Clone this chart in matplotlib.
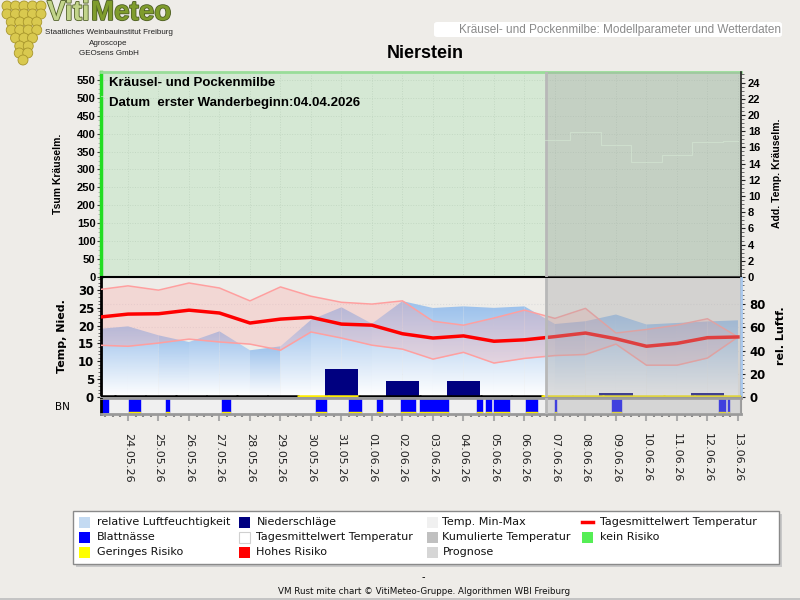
import numpy as np
import matplotlib
matplotlib.use('Agg')
import matplotlib.pyplot as plt
from matplotlib.patches import Rectangle, Polygon, Ellipse, FancyBboxPatch
from matplotlib.lines import Line2D
from matplotlib.colors import LinearSegmentedColormap
from matplotlib.ticker import MultipleLocator
import matplotlib.patheffects as pe

# --- data (first entry 23.05 is only partly visible at the left edge) ---
dates = ['23.05.26', '24.05.26', '25.05.26', '26.05.26', '27.05.26', '28.05.26',
         '29.05.26', '30.05.26', '31.05.26', '01.06.26', '02.06.26', '03.06.26',
         '04.06.26', '05.06.26', '06.06.26', '07.06.26', '08.06.26', '09.06.26',
         '10.06.26', '11.06.26', '12.06.26', '13.06.26']
t_mean = [22.3, 23.2, 23.3, 24.3, 23.5, 20.7, 21.8, 22.3, 20.4, 20.1, 17.7,
          16.5, 17.1, 15.6, 16.0, 16.9, 17.9, 16.3, 14.2, 15.0, 16.6, 16.8]
t_max = [30.0, 31.1, 29.9, 31.9, 30.5, 26.9, 30.8, 28.2, 26.5, 26.0, 26.9,
         21.2, 20.1, 22.1, 24.3, 22.0, 24.8, 17.9, 18.9, 20.1, 21.9, 16.8]
t_min = [14.5, 14.2, 15.1, 16.2, 15.4, 14.8, 13.1, 18.2, 16.5, 14.5, 13.4,
         10.6, 12.5, 9.5, 10.8, 11.6, 11.9, 14.8, 8.9, 8.9, 10.9, 16.8]
rel_hum = [58.5, 60.8, 53.1, 47.3, 56.5, 40.2, 43.6, 66.4, 77.2, 63.1, 82.5,
           76.6, 78.0, 76.7, 78.0, 62.8, 65.2, 71.0, 62.4, 63.7, 65.0, 66.0]
rain = [0, 0, 0, 0, 0, 0, 0, 0, 7.8, 0, 4.4, 0, 4.4, 0, 0, 0.2, 0, 1.0, 0, 0, 1.0, 0]
risk = [0, 0, 0, 0, 0, 0, 0, 1, 1, 0, 0, 0, 0, 0, 0, 1, 1, 1, 1, 1, 1, 1]
# leaf wetness periods (start, end) in days relative to 24.05
leaf_wet = [(-0.86, -0.65), (0.03, 0.39), (1.25, 1.34), (3.08, 3.34), (6.16, 6.49),
            (7.25, 7.64), (8.16, 8.23), (8.27, 8.33), (8.95, 9.41), (9.57, 9.70),
            (9.74, 10.49), (11.44, 11.61), (11.74, 11.90), (12.0, 12.49),
            (13.05, 13.41), (14.0, 14.05), (15.86, 16.16), (19.38, 19.57), (19.66, 19.70)]
forecast_start = 13.7

x = np.arange(len(dates)) - 1
xlim = (-0.885, 20.1)

BG = '#eeece8'
GREEN_BG = '#d5e8d4'
fig = plt.figure(figsize=(8, 6), dpi=100, facecolor=BG)


def rect(l, t, r, b):
    return [l / 800, 1 - b / 600, (r - l) / 800, (b - t) / 600]


def fx(px):
    return px / 800


def fy(py):
    return 1 - py / 600


# ---------------- upper panel ----------------
ax_top = fig.add_axes(rect(101, 72, 741, 277))
ax_top.set_facecolor(GREEN_BG)
ax_top.set_xlim(*xlim)
ax_top.set_ylim(0, 572)
ax_top.set_yticks(np.arange(0, 551, 50))
ax_top.yaxis.set_minor_locator(MultipleLocator(12.5))
ax_top.set_xticks(x[1:])
ax_top.tick_params(axis='x', length=0, labelbottom=False)
ax_top.tick_params(axis='y', which='major', length=3, color='#444444', pad=1)
ax_top.tick_params(axis='y', which='minor', length=2, color='#aaaaaa')
for lab in ax_top.get_yticklabels():
    lab.set_fontfamily('Liberation Sans')
    lab.set_fontweight('bold')
    lab.set_fontsize(8)
ax_top.grid(True, color='#c3d8c3', lw=0.7, ls=':')
ax_top.set_axisbelow(True)
ax_top.spines['left'].set_color('#22dd22')
ax_top.spines['left'].set_linewidth(2.5)
ax_top.spines['top'].set_color('#99dd99')
ax_top.spines['top'].set_linewidth(2)
ax_top.spines['bottom'].set_color('black')
ax_top.spines['bottom'].set_linewidth(1.5)
ax_top.spines['right'].set_visible(False)

ax_top2 = ax_top.twinx()
ax_top2.set_ylim(0, 25.3)
ax_top2.set_yticks(np.arange(0, 25, 2))
ax_top2.yaxis.set_minor_locator(MultipleLocator(0.5))
ax_top2.tick_params(axis='y', which='major', length=3, color='#222222', pad=2)
ax_top2.tick_params(axis='y', which='minor', length=2, color='#555555')
for lab in ax_top2.get_yticklabels():
    lab.set_fontfamily('Liberation Sans')
    lab.set_fontweight('bold')
    lab.set_fontsize(8)
for s in ['left', 'top', 'bottom']:
    ax_top2.spines[s].set_visible(False)
ax_top2.spines['right'].set_color('#222222')
ax_top2.spines['right'].set_linewidth(1.2)
ax_top.axvspan(forecast_start, xlim[1], color='#a9a9a9', alpha=0.38, lw=0, zorder=4)
ax_top.axvline(forecast_start, color='#b8b8b8', lw=2, zorder=5)
# additional temperature, drawn in background colour on top of the forecast shading
ax_top2.step(x, t_mean, where='mid', color=GREEN_BG, lw=0.8, alpha=0.6, zorder=1)

ax_top2.text(0.012, 0.945, 'Kräusel- und Pockenmilbe', transform=ax_top.transAxes,
             fontfamily='Liberation Sans', fontweight='bold', fontsize=9.5, va='center', zorder=10)
ax_top2.text(0.012, 0.848, 'Datum  erster Wanderbeginn:04.04.2026', transform=ax_top.transAxes,
             fontfamily='Liberation Sans', fontweight='bold', fontsize=9.5, va='center', zorder=10)

# ---------------- lower panel ----------------
ax_low = fig.add_axes(rect(101, 278, 741, 397))
ax_rh = ax_low.twinx()
ax_low.set_zorder(ax_rh.get_zorder() + 1)
ax_low.patch.set_visible(False)
ax_rh.set_facecolor('white')

ax_rh.set_xlim(*xlim)
ax_rh.set_ylim(0, 102.4)
ax_low.set_xlim(*xlim)
ax_low.set_ylim(0, 33.3)

rh_cmap = LinearSegmentedColormap.from_list('rh', ['#ffffff', '#9dc2ec'])
grad = np.linspace(0, 1, 100).reshape(-1, 1)
for i in range(len(x) - 1):
    top = max(rel_hum[i], rel_hum[i + 1])
    im = ax_rh.imshow(grad, extent=[x[i], x[i + 1], 0, top], origin='lower',
                      cmap=rh_cmap, aspect='auto', zorder=1)
    poly = Polygon([(x[i], 0), (x[i], rel_hum[i]), (x[i + 1], rel_hum[i + 1]), (x[i + 1], 0)],
                   closed=True, facecolor='none', edgecolor='none', transform=ax_rh.transData)
    ax_rh.add_patch(poly)
    im.set_clip_path(poly)
ax_rh.set_xlim(*xlim)
ax_rh.set_ylim(0, 102.4)
ax_rh.set_xticks(x[1:])
ax_rh.set_yticks(np.arange(0, 81, 20))
ax_rh.yaxis.set_minor_locator(MultipleLocator(4))
ax_rh.grid(True, color='#dddddd', lw=0.8, ls=':')
ax_rh.set_axisbelow(True)
ax_rh.tick_params(axis='x', length=0, labelbottom=False)
ax_rh.tick_params(axis='y', which='major', length=3, color='#222222', pad=3)
ax_rh.tick_params(axis='y', which='minor', length=2, color='#555555')
for lab in ax_rh.get_yticklabels():
    lab.set_fontfamily('DejaVu Sans')
    lab.set_fontweight('bold')
    lab.set_fontsize(8.5)
for s in ['left', 'top', 'bottom']:
    ax_rh.spines[s].set_visible(False)
ax_rh.spines['right'].set_color('#a8c8ee')
ax_rh.spines['right'].set_linewidth(2)

ax_low.fill_between(x, t_min, t_max, color=(1.0, 0.63, 0.63), alpha=0.28, lw=0, zorder=2)
ax_low.plot(x, t_max, color='#ff9f9f', lw=1.1, zorder=3)
ax_low.plot(x, t_min, color='#ff9f9f', lw=1.1, zorder=3)
ax_low.bar(x, rain, width=1.1, color='#000080', zorder=3)
ax_low.plot(x, t_mean, color='#ff0000', lw=2.5, zorder=4)
for xi, r in zip(x, risk):
    ax_low.hlines(0.15, xi - 0.45, xi + 0.6, color='#ffee00' if r else 'black', lw=1.8, zorder=3)
ax_low.axvspan(forecast_start, xlim[1], color='#a9a9a9', alpha=0.38, lw=0, zorder=5)
ax_low.axvline(forecast_start, color='#b8b8b8', lw=2, zorder=6)

ax_low.set_yticks(np.arange(0, 31, 5))
ax_low.yaxis.set_minor_locator(MultipleLocator(1))
ax_low.set_xticks(x[1:])
ax_low.tick_params(axis='x', length=0, labelbottom=False)
ax_low.tick_params(axis='y', which='major', length=3, color='#222222', pad=2)
ax_low.tick_params(axis='y', which='minor', length=2, color='#555555')
for lab in ax_low.get_yticklabels():
    lab.set_fontfamily('DejaVu Sans')
    lab.set_fontweight('bold')
    lab.set_fontsize(8.5)
ax_low.spines['left'].set_color('black')
ax_low.spines['left'].set_linewidth(2)
ax_low.spines['right'].set_visible(False)
ax_low.spines['top'].set_visible(False)
ax_low.spines['bottom'].set_color('#999999')
ax_low.spines['bottom'].set_linewidth(1.5)

# ---------------- leaf wetness strip ----------------
ax_bn = fig.add_axes(rect(101, 398, 741, 414))
ax_bn.set_facecolor('#f0f0f0')
ax_bn.set_xlim(*xlim)
ax_bn.set_ylim(0, 1)
ax_bn.broken_barh([(s, e - s) for s, e in leaf_wet], (0.12, 0.88), color='#0000ff', zorder=2)
ax_bn.broken_barh([(s, e - s) for s, e in leaf_wet[1:]], (0.0, 0.12), color='#ffee00', zorder=2)
ax_bn.axvspan(forecast_start, xlim[1], color='#a9a9a9', alpha=0.38, lw=0, zorder=4)
ax_bn.axvline(forecast_start, color='#b8b8b8', lw=2, zorder=5)
ax_bn.set_yticks([])
ax_bn.set_xticks(x[1:])
ax_bn.set_xticklabels(dates[1:], rotation=-90, fontsize=8, fontfamily='DejaVu Sans', color='#222222')
ax_bn.xaxis.set_minor_locator(MultipleLocator(0.25))
ax_bn.tick_params(axis='x', which='major', length=5, width=1.5, color='#aaaaaa', pad=9)
ax_bn.tick_params(axis='x', which='minor', length=2, width=1.5, color='#888888')
for s in ['top', 'bottom']:
    ax_bn.spines[s].set_color('#9a9a9a')
    ax_bn.spines[s].set_linewidth(2)
ax_bn.spines['left'].set_color('black')
ax_bn.spines['left'].set_linewidth(2)
ax_bn.spines['right'].set_color('#9a9a9a')
ax_bn.spines['right'].set_linewidth(1.5)

# ---------------- axis titles ----------------
fig.text(fx(58), fy(174), 'Tsum Kräuselm.', rotation=90, ha='center', va='center',
         fontfamily='Liberation Sans', fontweight='bold', fontsize=7.5)
fig.text(fx(777), fy(173), 'Add. Temp. Kräuselm.', rotation=90, ha='center', va='center',
         fontfamily='Liberation Sans', fontweight='bold', fontsize=7.5)
fig.text(fx(62), fy(336), 'Temp, Nied.', rotation=90, ha='center', va='center',
         fontfamily='DejaVu Sans', fontweight='bold', fontsize=8)
fig.text(fx(781), fy(336), 'rel. Luftf.', rotation=90, ha='center', va='center',
         fontfamily='DejaVu Sans', fontweight='bold', fontsize=8)
fig.text(fx(62), fy(407), 'BN', ha='center', va='center', fontfamily='DejaVu Sans', fontsize=7.5)

# ---------------- header ----------------
fig.text(fx(425), fy(53), 'Nierstein', ha='center', va='center',
         fontfamily='Liberation Sans', fontweight='bold', fontsize=13)
fig.add_artist(FancyBboxPatch((fx(434), fy(37)), fx(348), 15 / 600,
                              boxstyle='round,pad=0,rounding_size=0.004',
                              transform=fig.transFigure, facecolor='white', edgecolor='none'))
fig.text(fx(781), fy(29.5), 'Kräusel- und Pockenmilbe: Modellparameter und Wetterdaten',
         ha='right', va='center', fontfamily='Liberation Sans', fontsize=8.5, color='#8a8a8a')

# logo
grape_rows = [(6, 5), (14, 5), (22, 4), (30, 4), (38, 3), (46, 2), (53, 2), (60, 1)]
for ry, n in grape_rows:
    for k in range(n):
        cx = 23 + (k - (n - 1) / 2) * 8.5 + (ry % 4) * 0.5
        fig.add_artist(Ellipse((fx(cx), fy(ry)), 10 / 800, 10 / 600, transform=fig.transFigure,
                               facecolor='#d9c94f', edgecolor='#a8962c', lw=0.6))
stroke = [pe.withStroke(linewidth=1.2, foreground='#4f5f25')]
fig.text(fx(47), fy(13), 'Viti', ha='left', va='center', fontfamily='Liberation Sans',
         fontweight='bold', fontsize=20, color='#c2d48a', path_effects=stroke)
fig.text(fx(91), fy(13), 'Meteo', ha='left', va='center', fontfamily='Liberation Sans',
         fontweight='bold', fontsize=20, color='#7f9c2c', path_effects=stroke)
for txt, yy in [('Staatliches Weinbauinstitut Freiburg', 33), ('Agroscope', 43.5), ('GEOsens GmbH', 53.5)]:
    fig.text(fx(108.5), fy(yy), txt, ha='center', va='center', fontfamily='Liberation Sans',
             fontsize=5.8, color='#222222')

# ---------------- legend ----------------
fig.add_artist(Rectangle((fx(76), fy(567)), fx(706), 53 / 600, transform=fig.transFigure,
                         facecolor='#c8c8c8', edgecolor='none'))
fig.add_artist(Rectangle((fx(73), fy(564)), fx(706), 53 / 600, transform=fig.transFigure,
                         facecolor='white', edgecolor='#8a8a8a', lw=1))
legend_cols = [
    [('relative Luftfeuchtigkeit', 'patch', '#c3daf2'), ('Blattnässe', 'patch', '#0000ff'),
     ('Geringes Risiko', 'patch', '#ffff00')],
    [('Niederschläge', 'patch', '#000080'), ('Tagesmittelwert Temperatur', 'patch', '#ffffff'),
     ('Hohes Risiko', 'patch', '#ff0000')],
    [('Temp. Min-Max', 'patch', '#f0f0f0'), ('Kumulierte Temperatur', 'patch', '#c0c0c0'),
     ('Prognose', 'patch', '#d6d6d6')],
    [('Tagesmittelwert Temperatur', 'line', '#ff0000'), ('kein Risiko', 'patch', '#55ee55')],
]
col_patch_x = [79, 239, 427, 582]
col_text_x = [97, 256.5, 442.5, 599.5]
row_y = [522, 537, 552]
for ci, col in enumerate(legend_cols):
    for ri, (label, kind, colr) in enumerate(col):
        yc = row_y[ri]
        if kind == 'line':
            fig.add_artist(Line2D([fx(col_patch_x[ci]), fx(col_patch_x[ci] + 11)], [fy(yc), fy(yc)],
                                  transform=fig.transFigure, color=colr, lw=2.5))
        else:
            ec = '#d0d0d0' if colr == '#ffffff' else 'none'
            fig.add_artist(Rectangle((fx(col_patch_x[ci]), fy(yc + 5.5)), 11 / 800, 11 / 600,
                                     transform=fig.transFigure, facecolor=colr, edgecolor=ec, lw=0.8))
        fig.text(fx(col_text_x[ci]), fy(yc), label, ha='left', va='center',
                 fontfamily='DejaVu Sans', fontsize=8, color='#111111')

# ---------------- footer ----------------
fig.text(fx(423), fy(577), '-', ha='center', va='center', fontfamily='DejaVu Sans', fontsize=7)
fig.text(fx(424), fy(592), 'VM Rust mite chart © VitiMeteo-Gruppe. Algorithmen WBI Freiburg',
         ha='center', va='center', fontfamily='DejaVu Sans', fontsize=6.3, color='#111111')
fig.add_artist(Rectangle((0, 0), 1, 2 / 600, transform=fig.transFigure,
                         facecolor='#c4c4c4', edgecolor='none'))

fig.savefig('out.png', dpi=100, facecolor=BG)
